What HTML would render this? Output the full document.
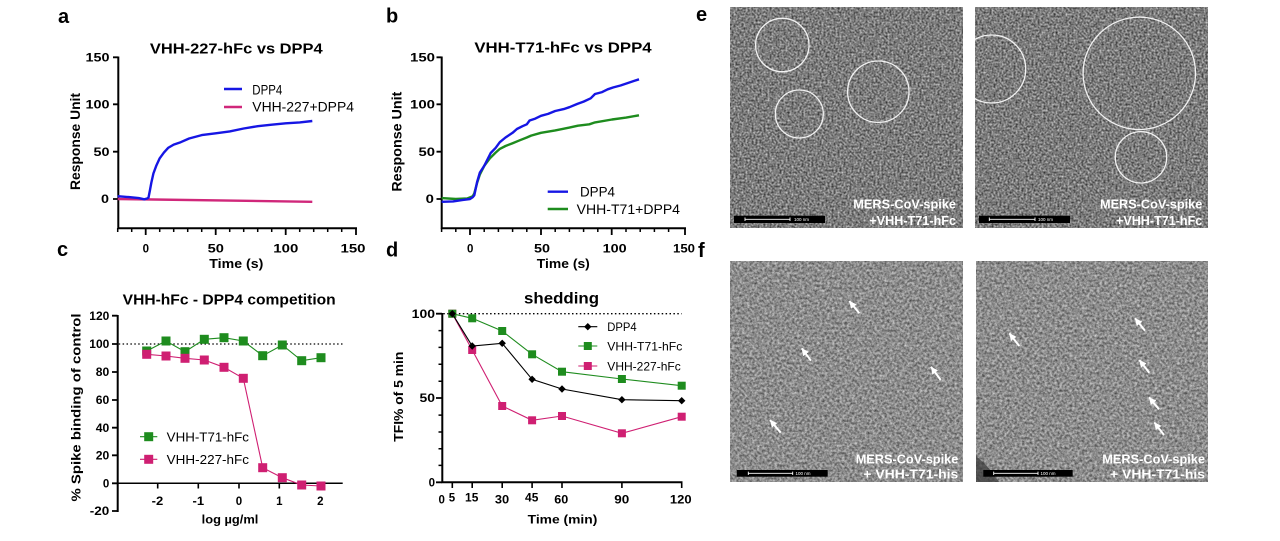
<!DOCTYPE html>
<html><head><meta charset="utf-8"><style>
html,body{margin:0;padding:0;background:#fff;}
svg{display:block;}
text{font-family:"Liberation Sans",Arial,sans-serif;}
</style></head><body>
<svg width="1280" height="541" viewBox="0 0 1280 541" xmlns="http://www.w3.org/2000/svg">
<defs>
<filter id="nE" x="0" y="0" width="1" height="1" color-interpolation-filters="sRGB">
<feTurbulence type="fractalNoise" baseFrequency="0.5" numOctaves="3" seed="3"/>
<feColorMatrix type="matrix" values="0.85 0 0 0 0.06  0.85 0 0 0 0.06  0.85 0 0 0 0.06  0 0 0 0 1"/>
</filter>
<filter id="nF" x="0" y="0" width="1" height="1" color-interpolation-filters="sRGB">
<feTurbulence type="fractalNoise" baseFrequency="0.4" numOctaves="3" seed="7"/>
<feColorMatrix type="matrix" values="0.7 0 0 0 0.2  0.7 0 0 0 0.2  0.7 0 0 0 0.2  0 0 0 0 1"/>
</filter>
<marker id="ah" markerWidth="3.6" markerHeight="3.6" refX="3.6" refY="1.8" orient="auto" markerUnits="strokeWidth">
<path d="M0,0 L3.6,1.8 L0,3.6 z" fill="#fff"/>
</marker>
<clipPath id="cr"><rect x="975" y="7" width="233" height="221"/></clipPath>
</defs>
<rect width="1280" height="541" fill="#fff"/>

<!-- panel letters -->
<g font-weight="bold" font-size="20" fill="#000">
<text x="58" y="23">a</text>
<text x="386" y="22.5">b</text>
<text x="57" y="256">c</text>
<text x="386" y="256.5">d</text>
<text x="696" y="21">e</text>
<text x="698" y="257">f</text>
</g>

<!-- ===== Panel a ===== -->
<g font-weight="bold" fill="#000">
<text x="236.3" y="53.3" font-size="15" text-anchor="middle" textLength="172.7" lengthAdjust="spacingAndGlyphs">VHH-227-hFc vs DPP4</text>
<text transform="translate(80,141.5) rotate(-90)" font-size="13.5" text-anchor="middle" textLength="97" lengthAdjust="spacingAndGlyphs">Response Unit</text>
<text x="236.3" y="268" font-size="13" text-anchor="middle" textLength="54" lengthAdjust="spacingAndGlyphs">Time (s)</text>
<g font-size="11.5" text-anchor="end">
<text x="109.5" y="61.5" textLength="24" lengthAdjust="spacingAndGlyphs">150</text>
<text x="109.5" y="108.5" textLength="24" lengthAdjust="spacingAndGlyphs">100</text>
<text x="109.5" y="155.9" textLength="16" lengthAdjust="spacingAndGlyphs">50</text>
<text x="109" y="203.2" textLength="8" lengthAdjust="spacingAndGlyphs">0</text>
</g>
<g font-size="11.5" text-anchor="middle">
<text x="145.8" y="252.7">0</text>
<text x="215.8" y="252.7" textLength="16.3" lengthAdjust="spacingAndGlyphs">50</text>
<text x="285.8" y="252.7" textLength="25" lengthAdjust="spacingAndGlyphs">100</text>
<text x="353" y="252.7" textLength="25" lengthAdjust="spacingAndGlyphs">150</text>
</g>
</g>
<g stroke="#000" fill="none">
<path d="M118.3,56.5 V229.3 M117.3,228.3 H357" stroke-width="2"/>
<path d="M113,57.3 H118 M113,104.3 H118 M113,151.7 H118 M113,199 H118" stroke-width="1.8"/>
<path d="M145.7,228 V235 M215.7,228 V235 M285.7,228 V235 M356,228 V235" stroke-width="1.8"/>
<path d="M117.7,228 V232 M131.7,228 V232 M159.7,228 V232 M173.7,228 V232 M187.7,228 V232 M201.7,228 V232 M229.7,228 V232 M243.7,228 V232 M257.7,228 V232 M271.7,228 V232 M299.7,228 V232 M313.7,228 V232 M327.7,228 V232 M341.7,228 V232" stroke-width="1.5"/>
</g>
<line x1="117.7" y1="199" x2="312.3" y2="201.8" stroke="#d0277a" stroke-width="2.4"/>
<polyline fill="none" stroke="#1616e4" stroke-width="2.4" stroke-linejoin="round" points="117.7,196.2 128.9,197.1 138.7,198.1 144.3,199.3 147.1,198.5 148.5,197.6 149.9,190.5 151.3,182.9 153.4,173.5 156.2,165.9 159.7,158.3 163.9,152.6 168.1,147.9 173.7,144.6 180.7,142.2 189.1,138.5 201.7,135.1 215.7,133.3 229.7,131.4 243.7,128.5 257.7,126.2 271.7,124.7 285.7,123.3 299.7,122.4 312.3,121"/>
<line x1="224" y1="89" x2="242" y2="89" stroke="#1616e4" stroke-width="2.4"/>
<line x1="224" y1="107" x2="242" y2="107" stroke="#d0277a" stroke-width="2.4"/>
<text x="252.3" y="94.3" font-size="13.5" textLength="30" lengthAdjust="spacingAndGlyphs">DPP4</text>
<text x="252.3" y="111.3" font-size="13.5" textLength="101.7" lengthAdjust="spacingAndGlyphs">VHH-227+DPP4</text>

<!-- ===== Panel b ===== -->
<g font-weight="bold" fill="#000">
<text x="563" y="52.3" font-size="15" text-anchor="middle" textLength="177.3" lengthAdjust="spacingAndGlyphs">VHH-T71-hFc vs DPP4</text>
<text transform="translate(401.5,141.7) rotate(-90)" font-size="13.5" text-anchor="middle" textLength="100" lengthAdjust="spacingAndGlyphs">Response Unit</text>
<text x="563.3" y="268" font-size="13" text-anchor="middle" textLength="53" lengthAdjust="spacingAndGlyphs">Time (s)</text>
<g font-size="11.5" text-anchor="end">
<text x="435" y="61.5" textLength="25" lengthAdjust="spacingAndGlyphs">150</text>
<text x="435" y="108.5" textLength="25" lengthAdjust="spacingAndGlyphs">100</text>
<text x="435" y="155.9" textLength="16.5" lengthAdjust="spacingAndGlyphs">50</text>
<text x="434" y="203.2" textLength="8.3" lengthAdjust="spacingAndGlyphs">0</text>
</g>
<g font-size="11.5" text-anchor="middle">
<text x="470.2" y="252.7">0</text>
<text x="542" y="252.7" textLength="16" lengthAdjust="spacingAndGlyphs">50</text>
<text x="614.7" y="252.7" textLength="24" lengthAdjust="spacingAndGlyphs">100</text>
<text x="684" y="252.7" textLength="22" lengthAdjust="spacingAndGlyphs">150</text>
</g>
</g>
<g stroke="#000" fill="none">
<path d="M441.7,56.5 V229.3 M440.7,228.3 H686" stroke-width="2"/>
<path d="M436.5,57.3 H441.5 M436.5,104.3 H441.5 M436.5,151.7 H441.5 M436.5,199 H441.5" stroke-width="1.8"/>
<path d="M470,228 V235 M541,228 V235 M611.7,228 V235 M685,228 V235" stroke-width="1.8"/>
<path d="M441.6,228 V232 M455.8,228 V232 M484.2,228 V232 M498.4,228 V232 M512.6,228 V232 M526.8,228 V232 M555.2,228 V232 M569.4,228 V232 M583.6,228 V232 M597.8,228 V232 M626,228 V232 M640.2,228 V232 M654.4,228 V232 M668.6,228 V232" stroke-width="1.5"/>
</g>
<polyline fill="none" stroke="#1e8c1e" stroke-width="2.4" stroke-linejoin="round" points="441.6,198.1 455.8,199 467.2,198.5 472.8,196.2 474.3,193.3 477.1,182.9 479.9,174.4 484.2,165.9 489.9,158.3 495.6,152.6 499.8,148.9 505.5,146 512.6,143.2 519.7,140.3 526.8,137.5 531.1,135.6 541,132.8 555.2,130.4 569.4,127.6 577.9,125.7 589.3,124.3 595,122.4 612,119.5 626.2,117.6 639,115.3"/>
<polyline fill="none" stroke="#1616e4" stroke-width="2.4" stroke-linejoin="round" points="441.6,201.8 453,201.4 462.9,199.9 470,199 472.8,197.1 474.3,195.2 477.1,182 479.9,172.5 484.2,165.9 490.7,153 495.6,147.9 499.8,142.2 505.5,137.5 512.6,132.8 516.9,129 522.5,126.2 526.8,124.3 529.6,120.5 535.3,118.6 541,115.8 548.1,113.9 555.2,111 563.7,109.1 569.4,107.2 577.4,103.9 583.6,101.6 590.7,98.3 595,94 602.1,92.1 607.7,89.3 613.4,87.4 620.5,85.5 629,82.6 639,79.3"/>
<line x1="547.7" y1="191.7" x2="568" y2="191.7" stroke="#1616e4" stroke-width="2.4"/>
<line x1="547.7" y1="209" x2="568" y2="209" stroke="#1e8c1e" stroke-width="2.4"/>
<text x="580" y="196.7" font-size="13.5" textLength="35" lengthAdjust="spacingAndGlyphs">DPP4</text>
<text x="576.7" y="214" font-size="13.5" textLength="103.3" lengthAdjust="spacingAndGlyphs">VHH-T71+DPP4</text>

<!-- ===== Panel c ===== -->
<g font-weight="bold" fill="#000">
<text x="229.2" y="304.3" font-size="15" text-anchor="middle" textLength="213" lengthAdjust="spacingAndGlyphs">VHH-hFc - DPP4 competition</text>
<text transform="translate(80.5,407.5) rotate(-90)" font-size="13" text-anchor="middle" textLength="188" lengthAdjust="spacingAndGlyphs">% Spike binding of control</text>
<text x="230" y="523.5" font-size="11.5" text-anchor="middle" textLength="56.7" lengthAdjust="spacingAndGlyphs">log µg/ml</text>
<g font-size="11.5" text-anchor="end">
<text x="109.3" y="319.9" textLength="20" lengthAdjust="spacingAndGlyphs">120</text>
<text x="109.3" y="348.2" textLength="20" lengthAdjust="spacingAndGlyphs">100</text>
<text x="109.3" y="376.2" textLength="13.5" lengthAdjust="spacingAndGlyphs">80</text>
<text x="109.3" y="404.2" textLength="13.5" lengthAdjust="spacingAndGlyphs">60</text>
<text x="109.3" y="431.9" textLength="13.5" lengthAdjust="spacingAndGlyphs">40</text>
<text x="109.3" y="459.5" textLength="13.5" lengthAdjust="spacingAndGlyphs">20</text>
<text x="109.3" y="487.5">0</text>
<text x="109.3" y="515.2" textLength="19.5" lengthAdjust="spacingAndGlyphs">-20</text>
</g>
<g font-size="11.5" text-anchor="middle">
<text x="157.5" y="505" textLength="11.6" lengthAdjust="spacingAndGlyphs">-2</text>
<text x="198.3" y="505" textLength="11.6" lengthAdjust="spacingAndGlyphs">-1</text>
<text x="239" y="505">0</text>
<text x="279.3" y="505">1</text>
<text x="320.3" y="505">2</text>
</g>
</g>
<g stroke="#000" fill="none">
<path d="M117.7,315 V512" stroke-width="2"/>
<path d="M112,315.7 H117.5 M112,344 H117.5 M112,372 H117.5 M112,400 H117.5 M112,427.7 H117.5 M112,455.3 H117.5 M112,483.3 H117.5 M112,511 H117.5" stroke-width="1.8"/>
<path d="M117.7,483.3 H342.7" stroke-width="1.5"/>
<path d="M157.7,483 V488.5 M198.3,483 V488.5 M239,483 V488.5 M279.3,483 V488.5 M320,483 V488.5" stroke-width="1.6"/>
<path d="M118.7,344 H342.7" stroke-width="1.3" stroke-dasharray="1.5,2.4"/>
</g>
<polyline fill="none" stroke="#1e8c1e" stroke-width="1.1" points="146.7,351 166,341 185,351.7 204.3,339.3 224,337.7 243.3,341 262.7,355.7 282.3,345 301.7,360.7 321,357.7"/>
<g fill="#1e8c1e">
<rect x="142.2" y="346.5" width="9" height="9"/><rect x="161.5" y="336.5" width="9" height="9"/><rect x="180.5" y="347.2" width="9" height="9"/><rect x="199.8" y="334.8" width="9" height="9"/><rect x="219.5" y="333.2" width="9" height="9"/><rect x="238.8" y="336.5" width="9" height="9"/><rect x="258.2" y="351.2" width="9" height="9"/><rect x="277.8" y="340.5" width="9" height="9"/><rect x="297.2" y="356.2" width="9" height="9"/><rect x="316.5" y="353.2" width="9" height="9"/>
</g>
<polyline fill="none" stroke="#cf1f72" stroke-width="1.1" points="146.7,354.3 166,356 185,358.3 204.3,360 224,367.3 243.3,378.3 262.7,467.7 282.3,477.7 301.7,485 321,486"/>
<g fill="#cf1f72">
<rect x="142.2" y="349.8" width="9" height="9"/><rect x="161.5" y="351.5" width="9" height="9"/><rect x="180.5" y="353.8" width="9" height="9"/><rect x="199.8" y="355.5" width="9" height="9"/><rect x="219.5" y="362.8" width="9" height="9"/><rect x="238.8" y="373.8" width="9" height="9"/><rect x="258.2" y="463.2" width="9" height="9"/><rect x="277.8" y="473.2" width="9" height="9"/><rect x="297.2" y="480.5" width="9" height="9"/><rect x="316.5" y="481.5" width="9" height="9"/>
</g>
<line x1="140" y1="436.7" x2="157.3" y2="436.7" stroke="#1e8c1e" stroke-width="1.1"/>
<rect x="144.2" y="432.2" width="9" height="9" fill="#1e8c1e"/>
<line x1="140" y1="459.3" x2="157.3" y2="459.3" stroke="#cf1f72" stroke-width="1.1"/>
<rect x="144.2" y="454.8" width="9" height="9" fill="#cf1f72"/>
<text x="166.7" y="441.7" font-size="13.3" textLength="82.3" lengthAdjust="spacingAndGlyphs">VHH-T71-hFc</text>
<text x="166.7" y="464.2" font-size="13.3" textLength="82.3" lengthAdjust="spacingAndGlyphs">VHH-227-hFc</text>

<!-- ===== Panel d ===== -->
<g font-weight="bold" fill="#000">
<text x="561.5" y="303.3" font-size="16" text-anchor="middle" textLength="75" lengthAdjust="spacingAndGlyphs">shedding</text>
<text transform="translate(403,396.7) rotate(-90)" font-size="13" text-anchor="middle" textLength="90" lengthAdjust="spacingAndGlyphs">TFI%  of 5 min</text>
<text x="562.5" y="523.5" font-size="11.5" text-anchor="middle" textLength="69.7" lengthAdjust="spacingAndGlyphs">Time (min)</text>
<g font-size="11.5" text-anchor="end">
<text x="435" y="317.9" textLength="23.3" lengthAdjust="spacingAndGlyphs">100</text>
<text x="435" y="402.2" textLength="15.5" lengthAdjust="spacingAndGlyphs">50</text>
<text x="435" y="486.5">0</text>
</g>
<g font-size="11.5" text-anchor="middle">
<text x="441.7" y="503.3">0</text>
<text x="452" y="501.5">5</text>
<text x="471.7" y="501.5" textLength="13.3" lengthAdjust="spacingAndGlyphs">15</text>
<text x="502" y="503.3" textLength="14.3" lengthAdjust="spacingAndGlyphs">30</text>
<text x="531.7" y="501.5" textLength="13.3" lengthAdjust="spacingAndGlyphs">45</text>
<text x="561.3" y="503.3" textLength="14" lengthAdjust="spacingAndGlyphs">60</text>
<text x="621.8" y="503.3" textLength="15" lengthAdjust="spacingAndGlyphs">90</text>
<text x="680.8" y="503.3" textLength="21.7" lengthAdjust="spacingAndGlyphs">120</text>
</g>
</g>
<g stroke="#000" fill="none">
<path d="M442.3,313 V483.3 M441.3,482.3 H682.5" stroke-width="2"/>
<path d="M436,313.7 H442 M436,398 H442 M436,482.3 H442" stroke-width="1.8"/>
<path d="M438.5,330.6 H442 M438.5,347.4 H442 M438.5,364.3 H442 M438.5,381.2 H442 M438.5,415.1 H442 M438.5,432 H442 M438.5,448.8 H442 M438.5,465.4 H442" stroke-width="1.5"/>
<path d="M452.3,482 V488 M472.2,482 V488 M502.2,482 V488 M532.1,482 V488 M562,482 V488 M621.9,482 V488 M681.7,482 V488" stroke-width="1.6"/>
<path d="M443.3,313.7 H681.7" stroke-width="1.3" stroke-dasharray="1.5,2.4"/>
</g>
<polyline fill="none" stroke="#cf1f72" stroke-width="1.1" points="452.3,313.7 472.2,350 502.2,406 532.1,420.3 562,416 621.9,433.3 681.7,416.7"/>
<g fill="#cf1f72">
<rect x="448.3" y="309.7" width="8" height="8"/><rect x="468.2" y="346" width="8" height="8"/><rect x="498.2" y="402" width="8" height="8"/><rect x="528.1" y="416.3" width="8" height="8"/><rect x="558" y="412" width="8" height="8"/><rect x="617.9" y="429.3" width="8" height="8"/><rect x="677.7" y="412.7" width="8" height="8"/>
</g>
<polyline fill="none" stroke="#1e8c1e" stroke-width="1.1" points="452.3,313.7 472.2,318.3 502.2,331 532.1,354.3 562,371.7 621.9,379 681.7,385.7"/>
<g fill="#1e8c1e">
<rect x="448.3" y="309.7" width="8" height="8"/><rect x="468.2" y="314.3" width="8" height="8"/><rect x="498.2" y="327" width="8" height="8"/><rect x="528.1" y="350.3" width="8" height="8"/><rect x="558" y="367.7" width="8" height="8"/><rect x="617.9" y="375" width="8" height="8"/><rect x="677.7" y="381.7" width="8" height="8"/>
</g>
<polyline fill="none" stroke="#000" stroke-width="1.1" points="452.3,313.7 472.2,346 502.2,343.3 532.1,379.3 562,389 621.9,399.7 681.7,400.7"/>
<g fill="#000">
<polygon points="452.3,310 456,313.7 452.3,317.4 448.6,313.7"/>
<polygon points="472.2,342.3 475.9,346 472.2,349.7 468.5,346"/>
<polygon points="502.2,339.6 505.9,343.3 502.2,347 498.5,343.3"/>
<polygon points="532.1,375.6 535.8,379.3 532.1,383 528.4,379.3"/>
<polygon points="562,385.3 565.7,389 562,392.7 558.3,389"/>
<polygon points="621.9,396 625.6,399.7 621.9,403.4 618.2,399.7"/>
<polygon points="681.7,397 685.4,400.7 681.7,404.4 678,400.7"/>
</g>
<line x1="578.3" y1="326.7" x2="597.3" y2="326.7" stroke="#000" stroke-width="1.1"/>
<polygon points="587.8,323 591.5,326.7 587.8,330.4 584.1,326.7" fill="#000"/>
<line x1="578.3" y1="346" x2="597.3" y2="346" stroke="#1e8c1e" stroke-width="1.1"/>
<rect x="583.8" y="342" width="8" height="8" fill="#1e8c1e"/>
<line x1="578.3" y1="366" x2="597.3" y2="366" stroke="#cf1f72" stroke-width="1.1"/>
<rect x="583.8" y="362" width="8" height="8" fill="#cf1f72"/>
<text x="607.3" y="331" font-size="12" textLength="29.4" lengthAdjust="spacingAndGlyphs">DPP4</text>
<text x="607.3" y="350.5" font-size="12" textLength="75" lengthAdjust="spacingAndGlyphs">VHH-T71-hFc</text>
<text x="607.3" y="370.5" font-size="12" textLength="73.5" lengthAdjust="spacingAndGlyphs">VHH-227-hFc</text>

<!-- ===== Micrographs e ===== -->
<rect x="730" y="7" width="233" height="221" fill="#7a7a7a" filter="url(#nE)"/>
<rect x="975" y="7" width="233" height="221" fill="#7a7a7a" filter="url(#nE)"/>
<g fill="none" stroke="#f2f2f2" stroke-width="1.3">
<circle cx="782.3" cy="45" r="26.7"/>
<circle cx="799.3" cy="114" r="24"/>
<circle cx="878.3" cy="91.7" r="30.7"/>
<circle cx="991.7" cy="69" r="34" clip-path="url(#cr)"/>
<circle cx="1139.3" cy="73.3" r="56.2"/>
<circle cx="1141" cy="157.3" r="25.7"/>
</g>
<!-- scale bars e -->
<rect x="734" y="215.7" width="91" height="7.3" fill="#000"/>
<path d="M745,219.3 H790 M745,217.5 V221 M790,217.5 V221" stroke="#fff" stroke-width="0.9"/>
<text x="794" y="221" font-size="4.5" fill="#fff">100 nm</text>
<rect x="979" y="215.7" width="91" height="7.3" fill="#000"/>
<path d="M989.3,219.3 H1035 M989.3,217.5 V221 M1035,217.5 V221" stroke="#fff" stroke-width="0.9"/>
<text x="1038" y="221" font-size="4.5" fill="#fff">100 nm</text>
<g font-weight="bold" font-size="13" fill="#fff" text-anchor="end">
<text x="956" y="208.3" textLength="102.7" lengthAdjust="spacingAndGlyphs">MERS-CoV-spike</text>
<text x="956" y="225" textLength="86.7" lengthAdjust="spacingAndGlyphs">+VHH-T71-hFc</text>
<text x="1202.3" y="208.3" textLength="102.3" lengthAdjust="spacingAndGlyphs">MERS-CoV-spike</text>
<text x="1202.3" y="225" textLength="86.3" lengthAdjust="spacingAndGlyphs">+VHH-T71-hFc</text>
</g>

<!-- ===== Micrographs f ===== -->
<rect x="730" y="261" width="233" height="221" fill="#8c8c8c" filter="url(#nF)"/>
<rect x="976" y="261" width="232" height="221" fill="#8c8c8c" filter="url(#nF)"/>
<polygon points="976,456 984,463 992,472 999,482 976,482" fill="#3c3c3c" opacity="0.75"/>
<g stroke="#fff" stroke-width="2" marker-end="url(#ah)">
<line x1="859.3" y1="313.3" x2="849.3" y2="301"/>
<line x1="811" y1="360.7" x2="801.7" y2="348.3"/>
<line x1="940.7" y1="380" x2="931" y2="366.7"/>
<line x1="780.7" y1="432.7" x2="770" y2="420"/>
<line x1="1019.3" y1="346" x2="1009.3" y2="333.3"/>
<line x1="1145" y1="330.7" x2="1135" y2="318.3"/>
<line x1="1149.3" y1="372.7" x2="1139.3" y2="360"/>
<line x1="1159" y1="409.3" x2="1149" y2="397.3"/>
<line x1="1164" y1="435" x2="1154.3" y2="422.3"/>
</g>
<rect x="736.7" y="470" width="91" height="6.7" fill="#000"/>
<path d="M748.3,473.3 H792.7 M748.3,471.6 V475 M792.7,471.6 V475" stroke="#fff" stroke-width="0.9"/>
<text x="795.5" y="475" font-size="4.5" fill="#fff">100 nm</text>
<rect x="983.3" y="470" width="89.4" height="6.7" fill="#000"/>
<path d="M993.7,473.3 H1038 M993.7,471.6 V475 M1038,471.6 V475" stroke="#fff" stroke-width="0.9"/>
<text x="1040.5" y="475" font-size="4.5" fill="#fff">100 nm</text>
<g font-weight="bold" font-size="13" fill="#fff" text-anchor="end">
<text x="958.3" y="463.3" textLength="102.6" lengthAdjust="spacingAndGlyphs">MERS-CoV-spike</text>
<text x="958.3" y="478.3" textLength="95" lengthAdjust="spacingAndGlyphs">+ VHH-T71-his</text>
<text x="1205" y="463.3" textLength="102.7" lengthAdjust="spacingAndGlyphs">MERS-CoV-spike</text>
<text x="1205" y="478.3" textLength="95" lengthAdjust="spacingAndGlyphs">+ VHH-T71-his</text>
</g>
</svg>
</body></html>
